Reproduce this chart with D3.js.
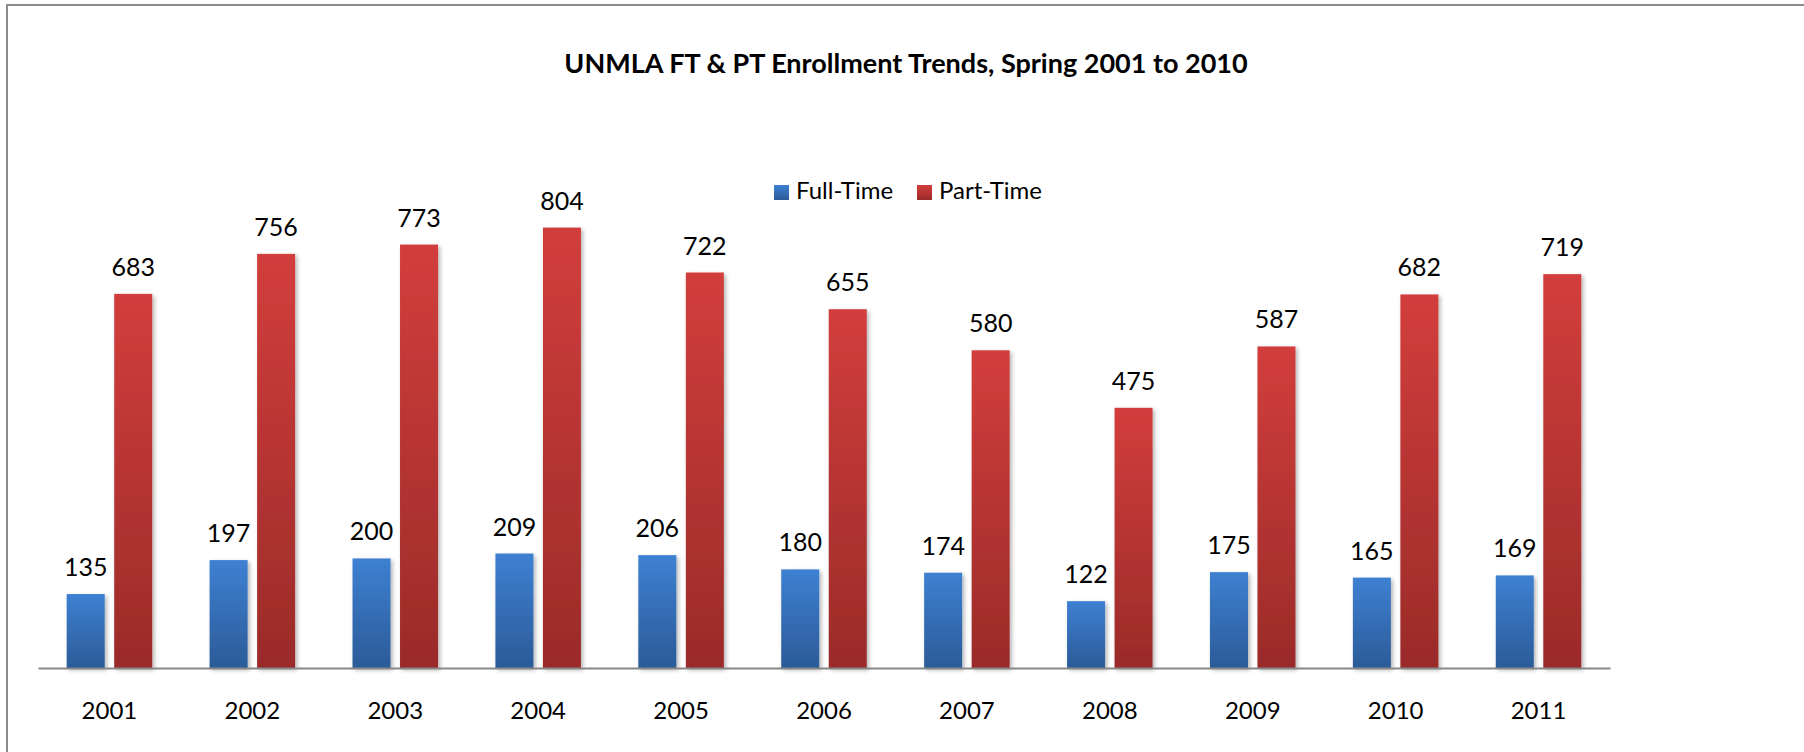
<!DOCTYPE html>
<html>
<head>
<meta charset="utf-8">
<script src="https://cdn.jsdelivr.net/npm/d3@7"></script>
<style>
  body { margin: 0; background: #fff; }
  svg { display: block; font-family: Lato, "Open Sans", sans-serif; }
</style>
</head>
<body>
<div class="canvas"></div>
<script>
// DATA
const years = ['2001', '2002', '2003', '2004', '2005', '2006', '2007', '2008', '2009', '2010', '2011'];
const fullTime = [135, 197, 200, 209, 206, 180, 174, 122, 175, 165, 169];
const partTime = [683, 756, 773, 804, 722, 655, 580, 475, 587, 682, 719];
const seriesNames = ['Full-Time', 'Part-Time'];

const dims = { width: 1804, height: 752 };
const plot = { left: 38, right: 1610, top: 175, bottom: 668 };

const svg = d3
  .select('.canvas')
  .append('svg')
  .attr('width', dims.width)
  .attr('height', dims.height);

// GRADIENTS + SHADOW
const defs = svg.append('defs');
const grads = [
  { id: 'gradFT', top: '#3e80d2', bottom: '#2b5b98' },
  { id: 'gradPT', top: '#d23e3c', bottom: '#9a2b29' }
];
grads.forEach((g) => {
  const lg = defs.append('linearGradient')
    .attr('id', g.id)
    .attr('x1', 0).attr('y1', 0).attr('x2', 0).attr('y2', 1);
  lg.append('stop').attr('offset', '0%').attr('stop-color', g.top);
  lg.append('stop').attr('offset', '100%').attr('stop-color', g.bottom);
});
defs.append('filter')
  .attr('id', 'shadow')
  .attr('x', '-20%').attr('y', '-5%').attr('width', '150%').attr('height', '115%')
  .append('feDropShadow')
  .attr('dx', 2).attr('dy', 2)
  .attr('stdDeviation', 2)
  .attr('flood-color', '#000')
  .attr('flood-opacity', 0.3);

// CHART BORDER (only left and top visible in the picture)
svg.append('path')
  .attr('d', `M7,${dims.height} V5 H${dims.width}`)
  .attr('fill', 'none')
  .attr('stroke', '#8c8c8c')
  .attr('stroke-width', 2);

// SCALES
const x0 = d3.scaleBand()
  .domain(years)
  .range([plot.left, plot.right]);

const x1 = d3.scaleBand()
  .domain(seriesNames)
  .range([0, x0.bandwidth()])
  .paddingInner(0.2)
  .paddingOuter(0.604);

const y = d3.scaleLinear()
  .domain([0, 900])
  .range([plot.bottom, plot.top]);

const fills = { 'Full-Time': 'url(#gradFT)', 'Part-Time': 'url(#gradPT)' };

const rows = years.map((yr, i) => ({
  year: yr,
  values: [
    { key: 'Full-Time', value: fullTime[i] },
    { key: 'Part-Time', value: partTime[i] }
  ]
}));

// BARS
const groups = svg.append('g')
  .selectAll('g')
  .data(rows)
  .join('g')
  .attr('transform', (d) => `translate(${x0(d.year)},0)`);

groups.selectAll('rect')
  .data((d) => d.values)
  .join('rect')
  .attr('x', (d) => x1(d.key))
  .attr('y', (d) => y(d.value))
  .attr('width', x1.bandwidth())
  .attr('height', (d) => y(0) - y(d.value))
  .attr('fill', (d) => fills[d.key])
  .attr('filter', 'url(#shadow)');

// VALUE LABELS
groups.selectAll('text')
  .data((d) => d.values)
  .join('text')
  .attr('x', (d) => x1(d.key) + x1.bandwidth() / 2)
  .attr('y', (d) => y(d.value) - 18)
  .attr('text-anchor', 'middle')
  .attr('font-size', 25)
  .attr('fill', '#000')
  .text((d) => d.value);

// X AXIS
const xAxis = svg.append('g')
  .attr('transform', `translate(0,${plot.bottom})`)
  .call(d3.axisBottom(x0).tickSize(0).tickPadding(0));

xAxis.select('.domain')
  .attr('stroke', '#878787')
  .attr('stroke-width', 2);

xAxis.selectAll('text')
  .attr('y', 51)
  .attr('dy', 0)
  .attr('font-size', 24)
  .attr('font-family', 'Lato, "Open Sans", sans-serif')
  .attr('fill', '#000');

// TITLE
svg.append('text')
  .attr('x', 906)
  .attr('y', 73)
  .attr('text-anchor', 'middle')
  .attr('font-size', 27)
  .attr('font-weight', 'bold')
  .attr('fill', '#000')
  .text('UNMLA FT & PT Enrollment Trends, Spring 2001 to 2010');

// LEGEND
const legendPos = [774, 917];
const legend = svg.append('g')
  .selectAll('g')
  .data(seriesNames)
  .join('g')
  .attr('transform', (d, i) => `translate(${legendPos[i]},185)`);

legend.append('rect')
  .attr('width', 15)
  .attr('height', 15)
  .attr('fill', (d) => fills[d]);

legend.append('text')
  .attr('x', 22)
  .attr('y', 14)
  .attr('font-size', 24)
  .attr('fill', '#000')
  .text((d) => d);
</script>
</body>
</html>
